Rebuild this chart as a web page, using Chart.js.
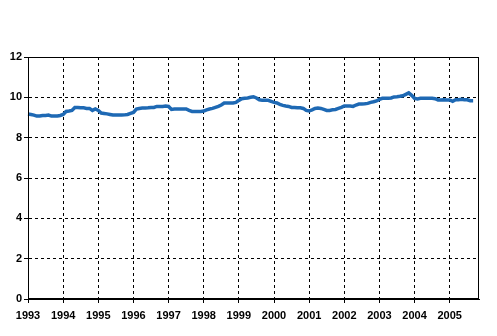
<!DOCTYPE html>
<html>
<head>
<meta charset="utf-8">
<script src="https://cdn.jsdelivr.net/npm/chart.js@4/dist/chart.umd.min.js"></script>
<style>
  html, body { margin: 0; padding: 0; background: #fff; }
  #wrap { width: 497px; height: 336px; }
</style>
</head>
<body>
<div id="wrap"><canvas id="c" width="497" height="336"></canvas></div>
<script>
// ── data ──
const years = ['1993', '1994', '1995', '1996', '1997', '1998', '1999',
               '2000', '2001', '2002', '2003', '2004', '2005'];
const monthsShown = 155; // Jan 1993 .. Nov 2005 on the axis

// monthly values, Jan 1993 .. Sep 2005
const values = [
    9.17, 9.15, 9.12, 9.07, 9.07, 9.10, 9.10, 9.12, 9.07, 9.07, 9.08, 9.10, // 1993
    9.15, 9.30, 9.32, 9.35, 9.50, 9.50, 9.48, 9.48, 9.45, 9.45, 9.35, 9.42, // 1994
    9.35, 9.22, 9.20, 9.18, 9.15, 9.12, 9.12, 9.12, 9.12, 9.13, 9.15, 9.20, // 1995
    9.25, 9.42, 9.45, 9.47, 9.47, 9.48, 9.50, 9.50, 9.55, 9.55, 9.55, 9.57, // 1996
    9.55, 9.40, 9.42, 9.42, 9.42, 9.42, 9.42, 9.35, 9.30, 9.30, 9.30, 9.30, // 1997
    9.32, 9.38, 9.42, 9.45, 9.50, 9.55, 9.62, 9.72, 9.72, 9.72, 9.72, 9.75, // 1998
    9.85, 9.93, 9.95, 9.97, 10.00, 10.03, 9.97, 9.88, 9.85, 9.85, 9.85, 9.80, // 1999
    9.75, 9.72, 9.65, 9.60, 9.57, 9.55, 9.50, 9.50, 9.48, 9.48, 9.45, 9.35, // 2000
    9.32, 9.38, 9.45, 9.47, 9.45, 9.40, 9.35, 9.35, 9.38, 9.40, 9.45, 9.50, // 2001
    9.57, 9.57, 9.57, 9.55, 9.62, 9.67, 9.67, 9.68, 9.70, 9.75, 9.78, 9.82, // 2002
    9.90, 9.95, 9.95, 9.95, 9.97, 10.02, 10.03, 10.05, 10.08, 10.15, 10.22, 10.10, // 2003
    9.95, 9.92, 9.95, 9.95, 9.95, 9.95, 9.95, 9.93, 9.87, 9.87, 9.88, 9.87, // 2004
    9.87, 9.80, 9.88, 9.88, 9.90, 9.88, 9.88, 9.83, 9.83                    // 2005
];

const yMin = 0, yMax = 12, yStep = 2;
const LINE = '#1e69b4';
const FONT = { family: 'Liberation Sans, Arial, sans-serif', size: 11, weight: 'bold' };

// one label per month, year shown only on January
const labels = [];
for (let i = 0; i < monthsShown; i++) {
    const y = years[Math.floor(i / 12)] || String(1993 + Math.floor(i / 12));
    labels.push(i % 12 === 0 ? y : '');
}

// solid frame round the plot area
const frame = {
    id: 'frame',
    afterDatasetsDraw(chart) {
        const a = chart.chartArea, ctx = chart.ctx;
        ctx.save();
        ctx.strokeStyle = '#000';
        ctx.lineWidth = 1;
        ctx.strokeRect(Math.round(a.left) + 0.5, Math.round(a.top) + 0.5,
            Math.round(a.right - a.left) - 1, Math.round(a.bottom - a.top) - 1);
        ctx.restore();
    }
};

new Chart(document.getElementById('c'), {
    type: 'line',
    data: {
        labels: labels,
        datasets: [{
            data: values,
            borderColor: LINE,
            borderWidth: 3.5,
            pointRadius: 0,
            tension: 0,
            fill: false
        }]
    },
    options: {
        responsive: false,
        animation: false,
        layout: { padding: { top: 57, right: 18, bottom: 0, left: 0 } },
        plugins: { legend: { display: false }, tooltip: { enabled: false } },
        scales: {
            x: {
                type: 'category',
                offset: false,
                grid: {
                    color: c => (c.index % 12 === 0 ? '#000' : 'rgba(0,0,0,0)'),
                    tickColor: c => (c.index % 12 === 0 ? '#000' : 'rgba(0,0,0,0)'),
                    lineWidth: 1,
                    tickLength: 4
                },
                border: { color: '#000', width: 1, dash: [3, 3] },
                ticks: {
                    autoSkip: false,
                    maxRotation: 0,
                    minRotation: 0,
                    padding: 6,
                    color: '#000',
                    font: FONT
                },
                afterFit: s => { s.height = 37; }
            },
            y: {
                min: yMin,
                max: yMax,
                grid: { color: '#000', lineWidth: 1, tickLength: 4, tickColor: '#000' },
                border: { color: '#000', width: 1, dash: [3, 3] },
                ticks: {
                    stepSize: yStep,
                    padding: 2,
                    color: '#000',
                    font: FONT
                },
                afterFit: s => { s.width = 28; }
            }
        }
    },
    plugins: [frame]
});
</script>
</body>
</html>
